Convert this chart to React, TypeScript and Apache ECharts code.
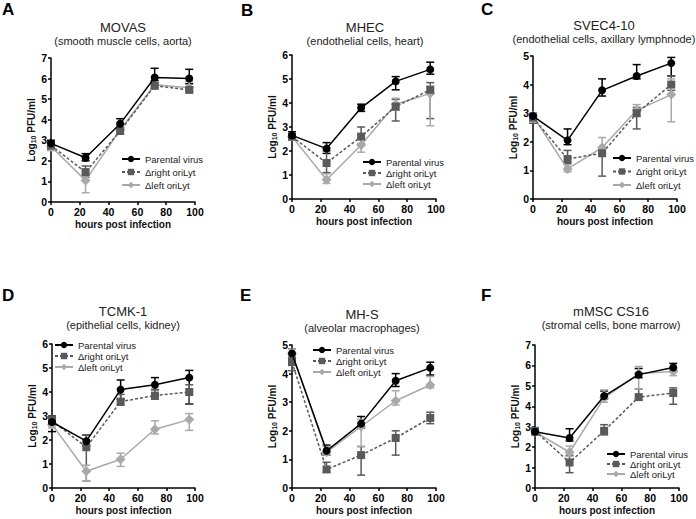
import React, { useEffect, useRef } from "react";
import * as echarts from "echarts";

const hours = [0, 24, 48, 72, 96];
const seriesNames = ["Parental virus", "Δright oriLyt", "Δleft oriLyt"];
const xTicks = [0, 20, 40, 60, 80, 100];

// A MOVAS
const movasParental = [2.85, 2.15, 3.8, 6.05, 6.0];
const movasParentalErr = [[2.7, 3.0], [2.0, 2.35], [3.6, 4.05], [5.9, 6.5], [5.75, 6.45]];
const movasRight = [2.75, 1.45, 3.45, 5.65, 5.45];
const movasRightErr = [[2.55, 2.9], [1.2, 1.75], [3.3, 3.6], [5.55, 5.8], [5.35, 5.6]];
const movasLeft = [2.7, 1.05, 3.5, 5.7, 5.55];
const movasLeftErr = [[2.5, 2.9], [0.45, 1.6], [3.3, 3.7], [5.5, 5.85], [5.4, 5.85]];

// B MHEC
const mhecParental = [2.65, 2.1, 3.8, 4.9, 5.4];
const mhecParentalErr = [[2.5, 2.8], [1.9, 2.35], [3.65, 3.95], [4.55, 5.1], [5.2, 5.7]];
const mhecRight = [2.6, 1.5, 2.6, 3.85, 4.55];
const mhecRightErr = [[2.45, 2.75], [1.1, 2.0], [2.3, 3.0], [3.25, 4.15], [3.35, 4.85]];
const mhecLeft = [2.6, 0.8, 2.25, 3.95, 4.4];
const mhecLeftErr = [[2.45, 2.75], [0.65, 1.05], [1.95, 2.55], [3.7, 4.2], [3.05, 4.7]];

// C SVEC4-10
const svecParental = [2.9, 2.05, 3.8, 4.3, 4.75];
const svecParentalErr = [[2.75, 3.0], [1.9, 2.45], [3.6, 4.2], [4.2, 4.7], [4.3, 4.95]];
const svecRight = [2.85, 1.4, 1.6, 3.0, 4.0];
const svecRightErr = [[2.65, 3.0], [1.25, 1.7], [0.8, 1.8], [2.45, 3.2], [3.8, 4.3]];
const svecLeft = [2.9, 1.05, 1.8, 3.1, 3.65];
const svecLeftErr = [[2.7, 3.0], [0.95, 1.2], [1.6, 2.15], [2.9, 3.3], [2.7, 4.2]];

// D TCMK-1
const tcmkParental = [2.75, 1.95, 4.1, 4.3, 4.6];
const tcmkParentalErr = [[2.35, 3.0], [1.75, 2.2], [3.7, 4.5], [4.1, 4.6], [3.5, 4.9]];
const tcmkRight = [2.8, 1.7, 3.6, 3.85, 4.0];
const tcmkRightErr = [[2.6, 3.0], [0.3, 2.2], [3.45, 3.9], [3.7, 4.1], [3.5, 4.3]];
const tcmkLeft = [2.65, 0.7, 1.2, 2.45, 2.85];
const tcmkLeftErr = [[2.5, 2.8], [0.3, 0.95], [0.9, 1.45], [2.25, 2.8], [2.4, 3.1]];

// E MH-S
const mhsParental = [4.7, 1.3, 2.25, 3.75, 4.2];
const mhsParentalErr = [[4.55, 4.85], [1.15, 1.5], [2.1, 2.5], [3.55, 4.0], [3.95, 4.4]];
const mhsRight = [4.4, 0.65, 1.15, 1.75, 2.45];
const mhsRightErr = [[4.1, 4.55], [0.55, 0.9], [0.45, 1.45], [1.15, 2.0], [2.25, 2.65]];
const mhsLeft = [4.7, 1.25, 2.15, 3.05, 3.6];
const mhsLeftErr = [[4.6, 4.85], [1.15, 1.45], [1.45, 2.4], [2.9, 3.4], [3.5, 3.9]];

// F mMSC CS16
const mmscParental = [2.75, 2.45, 4.5, 5.55, 5.9];
const mmscParentalErr = [[2.6, 2.9], [2.3, 2.9], [4.35, 4.75], [5.4, 5.85], [5.75, 6.1]];
const mmscRight = [2.8, 1.25, 2.8, 4.45, 4.65];
const mmscRightErr = [[2.65, 2.95], [0.75, 1.6], [2.6, 3.1], [4.3, 4.85], [4.1, 4.9]];
const mmscLeft = [2.75, 1.75, 4.4, 5.6, 5.7];
const mmscLeftErr = [[2.6, 2.9], [1.55, 2.05], [4.2, 4.8], [4.85, 5.95], [5.5, 5.85]];

const COLORS = ["#000000", "#5a5a5a", "#a9a9a9"];
const SYMBOLS = ["circle", "rect", "diamond"];
const SYMBOL_SIZES = [8, 8, 10];
const FONT = "'Liberation Sans', Arial, sans-serif";

type Panel = {
  letter: string;
  title: string;
  subtitle: string;
  yMax: number;
  grid: { left: number; top: number; width: number; height: number };
  letterPos: [number, number];
  titlePos: [number, number];
  legend: { left: number; top: number; gap: number };
  values: number[][];
  errs: number[][][];
};

const panels: Panel[] = [
  {
    letter: "A", title: "MOVAS", subtitle: "(smooth muscle cells, aorta)", yMax: 7,
    grid: { left: 51, top: 58, width: 144, height: 144 },
    letterPos: [2, 9], titlePos: [123, 27],
    legend: { left: 121, top: 154, gap: 3 },
    values: [movasParental, movasRight, movasLeft],
    errs: [movasParentalErr, movasRightErr, movasLeftErr],
  },
  {
    letter: "B", title: "MHEC", subtitle: "(endothelial cells, heart)", yMax: 6,
    grid: { left: 292, top: 55, width: 144, height: 144 },
    letterPos: [241, 10], titlePos: [365, 27],
    legend: { left: 362, top: 157, gap: 1 },
    values: [mhecParental, mhecRight, mhecLeft],
    errs: [mhecParentalErr, mhecRightErr, mhecLeftErr],
  },
  {
    letter: "C", title: "SVEC4-10", subtitle: "(endothelial cells, axillary lymphnode)", yMax: 5,
    grid: { left: 533, top: 56, width: 144, height: 143 },
    letterPos: [481, 9], titlePos: [604, 25],
    legend: { left: 612, top: 153, gap: 3.5 },
    values: [svecParental, svecRight, svecLeft],
    errs: [svecParentalErr, svecRightErr, svecLeftErr],
  },
  {
    letter: "D", title: "TCMK-1", subtitle: "(epithelial cells, kidney)", yMax: 6,
    grid: { left: 52, top: 344, width: 143, height: 144 },
    letterPos: [2, 295], titlePos: [123, 311],
    legend: { left: 54, top: 340, gap: 1 },
    values: [tcmkParental, tcmkRight, tcmkLeft],
    errs: [tcmkParentalErr, tcmkRightErr, tcmkLeftErr],
  },
  {
    letter: "E", title: "MH-S", subtitle: "(alveolar macrophages)", yMax: 5,
    grid: { left: 292, top: 345, width: 144, height: 143 },
    letterPos: [240, 295], titlePos: [362, 314],
    legend: { left: 312, top: 345, gap: 1 },
    values: [mhsParental, mhsRight, mhsLeft],
    errs: [mhsParentalErr, mhsRightErr, mhsLeftErr],
  },
  {
    letter: "F", title: "mMSC CS16", subtitle: "(stromal cells, bone marrow)", yMax: 7,
    grid: { left: 535, top: 345, width: 144, height: 143 },
    letterPos: [481, 295], titlePos: [611, 311],
    legend: { left: 606, top: 449, gap: 0 },
    values: [mmscParental, mmscRight, mmscLeft],
    errs: [mmscParentalErr, mmscRightErr, mmscLeftErr],
  },
];

function buildOption() {
  const grids: any[] = [];
  const xAxes: any[] = [];
  const yAxes: any[] = [];
  const series: any[] = [];
  const legends: any[] = [];
  const graphics: any[] = [];

  panels.forEach((p, i) => {
    grids.push({ ...p.grid, containLabel: false });
    xAxes.push({
      gridIndex: i, type: "value", min: 0, max: 100, interval: 20,
      name: "hours post infection", nameLocation: "middle", nameGap: 17,
      nameTextStyle: { fontFamily: FONT, fontWeight: "bold", fontSize: 10, color: "#111" },
      axisLine: { show: true, onZero: false, lineStyle: { color: "#000", width: 1.5 } },
      axisTick: { show: true, length: 3, lineStyle: { color: "#000", width: 1.5 } },
      axisLabel: { fontFamily: FONT, fontWeight: "bold", fontSize: 10.5, color: "#000", margin: 4 },
      splitLine: { show: false },
    });
    yAxes.push({
      gridIndex: i, type: "value", min: 0, max: p.yMax, interval: 1,
      name: "Log{sub|10} PFU/ml", nameLocation: "middle", nameGap: 8, nameRotate: 90,
      nameTextStyle: {
        fontFamily: FONT, fontWeight: "bold", fontSize: 10, color: "#111",
        rich: { sub: { fontFamily: FONT, fontWeight: "bold", fontSize: 7, color: "#111", padding: [4, 0, 0, 0] } },
      },
      axisLine: { show: true, onZero: false, lineStyle: { color: "#000", width: 1.5 } },
      axisTick: { show: true, length: 3, lineStyle: { color: "#000", width: 1.5 } },
      axisLabel: { fontFamily: FONT, fontWeight: "bold", fontSize: 10.5, color: "#000", margin: 4 },
      splitLine: { show: false },
    });

    p.values.forEach((vals, s) => {
      const errData = hours.map((h, k) => [h, p.errs[s][k][0], p.errs[s][k][1]]);
      const color = COLORS[s];
      series.push({
        type: "custom",
        name: `err-${p.letter}-${s}`,
        xAxisIndex: i, yAxisIndex: i,
        z: 1,
        encode: { x: 0, y: [1, 2] },
        renderItem: (params: any, api: any) => {
          const x = api.value(0);
          const lo = api.coord([x, api.value(1)]);
          const hi = api.coord([x, api.value(2)]);
          const w = 4;
          const st = { stroke: color, lineWidth: 1.5 };
          return {
            type: "group",
            children: [
              { type: "line", shape: { x1: lo[0], y1: lo[1], x2: hi[0], y2: hi[1] }, style: st },
              { type: "line", shape: { x1: hi[0] - w, y1: hi[1], x2: hi[0] + w, y2: hi[1] }, style: st },
              { type: "line", shape: { x1: lo[0] - w, y1: lo[1], x2: lo[0] + w, y2: lo[1] }, style: st },
            ],
          };
        },
        data: errData,
        silent: true,
      });
      series.push({
        type: "line",
        name: seriesNames[s],
        xAxisIndex: i, yAxisIndex: i,
        z: 3 - s + 2,
        data: hours.map((h, k) => [h, vals[k]]),
        symbol: SYMBOLS[s],
        symbolSize: SYMBOL_SIZES[s],
        showSymbol: true,
        itemStyle: { color },
        lineStyle: { color, width: 1.5, type: s === 1 ? [3, 2] : "solid" },
      });
    });

    legends.push({
      data: seriesNames,
      orient: "vertical",
      left: p.legend.left,
      top: p.legend.top,
      itemGap: p.legend.gap,
      itemWidth: 18,
      itemHeight: 8,
      padding: 0,
      textStyle: { fontFamily: FONT, fontSize: 9.5, color: "#222" },
      selectedMode: false,
    });

    graphics.push({
      type: "text", x: p.letterPos[0], y: p.letterPos[1],
      style: { text: p.letter, font: `bold 17px ${FONT}`, fill: "#000", textVerticalAlign: "middle" },
    });
    graphics.push({
      type: "text", x: p.titlePos[0], y: p.titlePos[1],
      style: { text: p.title, font: `13px ${FONT}`, fill: "#222", textAlign: "center", textVerticalAlign: "middle" },
    });
    graphics.push({
      type: "text", x: p.titlePos[0], y: p.titlePos[1] + 14,
      style: { text: p.subtitle, font: `11px ${FONT}`, fill: "#222", textAlign: "center", textVerticalAlign: "middle" },
    });
  });

  return {
    animation: false,
    backgroundColor: "#ffffff",
    grid: grids,
    xAxis: xAxes,
    yAxis: yAxes,
    legend: legends,
    series,
    graphic: graphics,
  };
}

export default function App() {
  const ref = useRef<HTMLDivElement>(null);
  useEffect(() => {
    if (!ref.current) return;
    const chart = echarts.init(ref.current, undefined, { renderer: "svg" });
    chart.setOption(buildOption() as any);
    return () => chart.dispose();
  }, []);
  return (
    <div
      ref={ref}
      style={{ position: "fixed", left: 0, top: 0, width: 696, height: 519, background: "#fff" }}
    />
  );
}
